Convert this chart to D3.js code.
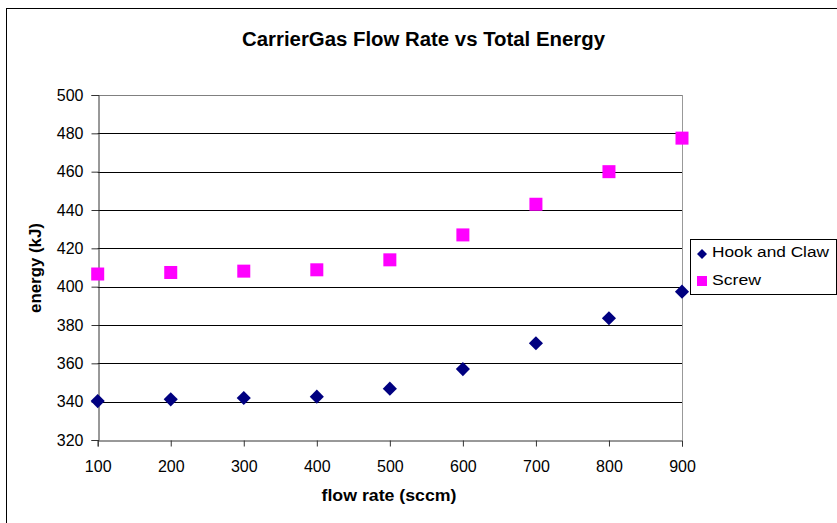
<!DOCTYPE html>
<html><head><meta charset="utf-8">
<script src="https://cdn.jsdelivr.net/npm/d3@7"></script>
<style>body{margin:0;background:#fff}svg{display:block}text{font-family:"Liberation Sans",Arial,sans-serif}</style>
</head><body><svg id="c" width="837" height="523"></svg>
<script>
const flowRates = [100,200,300,400,500,600,700,800,900];
const hookAndClaw = [340.3,341.2,341.9,342.6,346.8,357,370.5,383.5,397.4];
const screw = [406.6,407.4,408.1,408.8,414,427,443,460,477.5];
const yTicks = [320,340,360,380,400,420,440,460,480,500];
const xTicks = [100,200,300,400,500,600,700,800,900];
const seriesNames = ["Hook and Claw","Screw"];

const svg = d3.select("#c");
const x = d3.scaleLinear().domain([100,900]).range([97.7,682]);
const y = d3.scaleLinear().domain([320,500]).range([440,95]);

// outer frame
svg.append("rect").attr("x",6.5).attr("y",8.5).attr("width",840).attr("height",530)
  .attr("fill","none").attr("stroke","#000").attr("stroke-width",1);

// grid
svg.append("g").selectAll("line").data(yTicks.filter(d=>d>320 && d<500)).join("line")
  .attr("x1",x(100)).attr("x2",x(900)).attr("y1",d=>Math.round(y(d))+0.5).attr("y2",d=>Math.round(y(d))+0.5)
  .attr("stroke","#000");
// top & right plot border
svg.append("line").attr("x1",x(100)).attr("x2",x(900)).attr("y1",Math.round(y(500))+0.5).attr("y2",Math.round(y(500))+0.5).attr("stroke","#808080");
svg.append("line").attr("x1",Math.round(x(900))+0.5).attr("x2",Math.round(x(900))+0.5).attr("y1",y(500)).attr("y2",y(320)).attr("stroke","#999");

// axes
const yAxis = d3.axisLeft(y).tickValues(yTicks).tickSize(7).tickPadding(8);
const gy = svg.append("g").attr("transform",`translate(${Math.round(x(100))+0.5},0)`).call(yAxis);
const xAxis = d3.axisBottom(x).tickValues(xTicks).tickSize(6).tickPadding(14);
const gx = svg.append("g").attr("transform",`translate(0,${Math.round(y(320))+0.5})`).call(xAxis);
[gx,gy].forEach(g=>{
  g.select(".domain").attr("stroke","#333");
  g.selectAll(".tick line").attr("stroke","#333");
  g.selectAll("text").attr("font-size",16).attr("fill","#000").attr("font-family","Liberation Sans, Arial, sans-serif");
});

// titles
svg.append("text").attr("x",423.5).attr("y",46).attr("text-anchor","middle")
  .attr("font-size",20).attr("font-weight","bold")
  .attr("textLength",363).attr("lengthAdjust","spacingAndGlyphs").text("CarrierGas Flow Rate vs Total Energy");
svg.append("text").attr("x",389).attr("y",501).attr("text-anchor","middle")
  .attr("font-size",16).attr("font-weight","bold")
  .attr("textLength",135).attr("lengthAdjust","spacingAndGlyphs").text("flow rate (sccm)");
svg.append("text").attr("transform","translate(41,268) rotate(-90)").attr("text-anchor","middle")
  .attr("font-size",16).attr("font-weight","bold")
  .attr("textLength",90).attr("lengthAdjust","spacingAndGlyphs").text("energy (kJ)");

// markers
const diamond = d3.symbol().type(d3.symbolSquare).size(100);
svg.append("g").selectAll("path").data(flowRates.map((f,i)=>[f,hookAndClaw[i]])).join("path")
  .attr("d",diamond).attr("transform",d=>`translate(${x(d[0])},${y(d[1])}) rotate(45)`)
  .attr("fill","#000080");
svg.append("g").selectAll("rect").data(flowRates.map((f,i)=>[f,screw[i]])).join("rect")
  .attr("x",d=>x(d[0])-6.5).attr("y",d=>y(d[1])-6.5).attr("width",13).attr("height",13)
  .attr("fill","#ff00ff");

// legend
const lg = svg.append("g");
lg.append("rect").attr("x",690.5).attr("y",239.5).attr("width",146).attr("height",55)
  .attr("fill","#fff").attr("stroke","#000");
lg.append("path").attr("d",d3.symbol().type(d3.symbolSquare).size(50))
  .attr("transform","translate(702,254) rotate(45)").attr("fill","#000080");
lg.append("rect").attr("x",697).attr("y",276).attr("width",10).attr("height",10).attr("fill","#ff00ff");
lg.append("text").attr("x",712).attr("y",257).attr("font-size",15.5)
  .attr("textLength",117).attr("lengthAdjust","spacingAndGlyphs").text(seriesNames[0]);
lg.append("text").attr("x",712).attr("y",285).attr("font-size",15.5)
  .attr("textLength",49).attr("lengthAdjust","spacingAndGlyphs").text(seriesNames[1]);
</script></body></html>
